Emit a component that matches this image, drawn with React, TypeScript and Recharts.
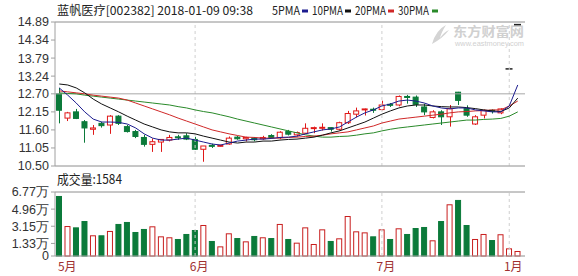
import React from "react";
import {
  ComposedChart,
  Bar,
  Line,
  XAxis,
  YAxis,
  CartesianGrid,
  ReferenceLine,
} from "recharts";

// daily candles, 2018 window (last two are the one-price limit-up days)
const OPEN = [
  12.7, 11.96, 12.15, 11.85, 11.62, 11.8, 11.75, 12.02, 11.7, 11.55, 11.37, 11.16, 11.23, 11.29,
  11.39, 11.42, 11.31, 11.01, 11.13, 11.12, 11.17, 11.38, 11.33, 11.35, 11.33, 11.43, 11.37, 11.55,
  11.45, 11.5, 11.65, 11.65, 11.67, 11.62, 11.82, 12.08, 12.22, 12.23, 12.22, 12.38, 12.36, 12.62,
  12.6, 12.3, 11.98, 12.15, 12.0, 12.75, 12.25, 11.78, 12.05, 12.2, 12.12, 13.46, 14.81,
];
const HIGH = [
  12.88, 12.15, 12.24, 11.9, 11.75, 11.85, 12.05, 12.05, 11.75, 11.6, 11.45, 11.34, 11.32, 11.45,
  11.45, 11.5, 11.39, 11.11, 11.18, 11.15, 11.4, 11.42, 11.39, 11.38, 11.42, 11.47, 11.56, 11.6,
  11.55, 11.8, 11.7, 11.8, 11.68, 11.85, 12.18, 12.28, 12.25, 12.28, 12.49, 12.42, 12.65, 12.67,
  12.65, 12.4, 12.2, 12.2, 12.36, 12.76, 12.35, 12.05, 12.22, 12.23, 12.26, 13.46, 14.81,
];
const LOW = [
  11.8, 11.87, 11.93, 11.21, 11.45, 11.67, 11.48, 11.75, 11.52, 11.35, 11.09, 10.93, 10.93, 11.25,
  11.3, 11.29, 10.99, 10.63, 11.05, 11.09, 11.15, 11.3, 11.25, 11.25, 11.3, 11.33, 11.32, 11.43,
  11.4, 11.48, 11.5, 11.58, 11.55, 11.58, 11.78, 11.98, 12.04, 12.12, 12.2, 12.3, 12.32, 12.4,
  12.3, 12.05, 11.95, 11.75, 11.7, 12.36, 12.0, 11.75, 11.95, 12.1, 12.08, 13.46, 14.81,
];
const CLOSE = [
  12.2, 12.12, 11.95, 11.66, 11.66, 11.73, 12.02, 11.8, 11.55, 11.4, 11.16, 11.24, 11.31, 11.37,
  11.36, 11.32, 11.01, 11.11, 11.1, 11.13, 11.35, 11.33, 11.37, 11.3, 11.37, 11.37, 11.53, 11.47,
  11.52, 11.65, 11.67, 11.68, 11.62, 11.82, 12.1, 12.18, 12.24, 12.2, 12.36, 12.35, 12.62, 12.6,
  12.38, 12.15, 12.15, 12.0, 12.25, 12.5, 12.05, 12.0, 12.2, 12.17, 12.24, 13.46, 14.81,
];
// 成交量, 万手
const VOLUME = [
  6.35, 3.17, 3.03, 3.7, 2.19, 2.19, 2.65, 3.39, 3.6, 2.54, 2.86, 3.14, 2.08, 1.98, 1.8, 2.33, 2.75,
  3.28, 1.59, 1.02, 2.4, 1.9, 1.55, 2.12, 1.98, 1.9, 3.39, 1.8, 1.41, 3.03, 1.27, 2.82, 1.59, 1.87,
  4.23, 2.61, 2.5, 2.08, 2.82, 1.8, 2.93, 2.33, 2.96, 3.07, 1.66, 3.7, 5.47, 5.93, 3.28, 1.8, 2.33,
  1.69, 2.3, 0.81, 0.53,
];

const MA5 = [
  12.88, 12.66, 12.42, 12.15, 11.93, 11.84, 11.84, 11.83, 11.78, 11.66, 11.48, 11.35, 11.29, 11.29,
  11.32, 11.35, 11.29, 11.23, 11.17, 11.14, 11.2, 11.26, 11.29, 11.32, 11.32, 11.34, 11.37, 11.38,
  11.41, 11.48, 11.54, 11.6, 11.63, 11.69, 11.84, 11.99, 12.12, 12.21, 12.33, 12.39, 12.48, 12.51,
  12.48, 12.42, 12.33, 12.27, 12.24, 12.27, 12.27, 12.21, 12.18, 12.15, 12.15, 12.33, 12.97,
];
const MA10 = [
  13.0, 12.97, 12.88, 12.73, 12.54, 12.39, 12.27, 12.15, 12.02, 11.9, 11.78, 11.69, 11.6, 11.54,
  11.51, 11.51, 11.48, 11.41, 11.35, 11.29, 11.23, 11.2, 11.23, 11.23, 11.26, 11.26, 11.29, 11.31,
  11.32, 11.35, 11.38, 11.44, 11.51, 11.57, 11.66, 11.75, 11.84, 11.96, 12.08, 12.18, 12.27, 12.33,
  12.36, 12.36, 12.33, 12.31, 12.3, 12.3, 12.28, 12.25, 12.21, 12.18, 12.16, 12.27, 12.57,
];
const MA20 = [
  12.79, 12.76, 12.73, 12.7, 12.66, 12.63, 12.6, 12.57, 12.51, 12.42, 12.33, 12.24, 12.15, 12.06,
  11.96, 11.87, 11.78, 11.69, 11.6, 11.54, 11.48, 11.43, 11.38, 11.37, 11.35, 11.35, 11.35, 11.37,
  11.38, 11.4, 11.41, 11.44, 11.48, 11.51, 11.54, 11.6, 11.66, 11.72, 11.81, 11.87, 11.93, 11.96,
  11.99, 12.02, 12.05, 12.08, 12.12, 12.15, 12.16, 12.18, 12.19, 12.21, 12.21, 12.33, 12.48,
];
const MA30 = [
  12.73, 12.71, 12.7, 12.66, 12.63, 12.6, 12.57, 12.54, 12.51, 12.48, 12.45, 12.42, 12.39, 12.36,
  12.31, 12.27, 12.21, 12.16, 12.12, 12.06, 12.0, 11.93, 11.87, 11.81, 11.75, 11.69, 11.63, 11.57,
  11.51, 11.45, 11.41, 11.38, 11.38, 11.4, 11.41, 11.44, 11.48, 11.51, 11.57, 11.62, 11.66, 11.69,
  11.72, 11.75, 11.78, 11.81, 11.84, 11.87, 11.9, 11.9, 11.92, 11.93, 11.95, 12.02, 12.15,
];

const PRICE_TICKS = [10.5, 11.05, 11.6, 12.15, 12.7, 13.24, 13.79, 14.34, 14.89];
const VOL_TICKS = [0, 1.33, 3.15, 4.96, 6.77];
const MONTH_IDX = [0, 16, 38, 53];
const MONTH_NAMES = ["5月", "6月", "7月", "1月"];

const RED = "#e01818";
const GREEN = "#0b7a3a";
const MA_COLORS = ["#1c1c8f", "#111111", "#d02828", "#2a8a2a"];
const GRID = "#dcdcdc";
const FRAME = "#a0a0a0";
const FONT = "'Liberation Sans', Arial, sans-serif";
const CJK = "'Noto Sans CJK SC', sans-serif";

const data = OPEN.map((o, i) => ({
  i,
  open: o,
  high: HIGH[i],
  low: LOW[i],
  close: CLOSE[i],
  vol: VOLUME[i],
  ma5: MA5[i],
  ma10: MA10[i],
  ma20: MA20[i],
  ma30: MA30[i],
}));

// wick + body, positioned inside the [low, high] bar the library lays out
function Candle(props: any) {
  const { x, y, width, height, payload } = props;
  const { open, close, high, low } = payload;
  if (high === low) {
    return <line x1={x - 0.5} x2={x + width + 0.5} y1={y} y2={y} stroke="#222" strokeWidth={1.5} />;
  }
  const k = height / (high - low);
  const py = (v: number) => y + (high - v) * k;
  const up = close >= open;
  const color = up ? RED : GREEN;
  const cx = Math.round(x + width / 2) + 0.5;
  const top = py(Math.max(open, close));
  const bot = py(Math.min(open, close));
  return (
    <g>
      <line x1={cx} x2={cx} y1={y} y2={y + height} stroke={color} strokeWidth={1} />
      <rect
        x={x + 0.5}
        y={top}
        width={width - 1}
        height={Math.max(bot - top, 1)}
        fill={up ? "#fff" : color}
        stroke={color}
        strokeWidth={1}
      />
    </g>
  );
}

function VolBar(props: any) {
  const { x, y, width, height, payload } = props;
  const up = payload.close >= payload.open;
  return (
    <rect
      x={x + 0.5}
      y={y + 0.5}
      width={width - 1}
      height={Math.max(height - 0.5, 0)}
      fill={up ? "#fff" : GREEN}
      stroke={up ? "#c81e1e" : GREEN}
      strokeWidth={1}
    />
  );
}

function MonthTick(props: any) {
  const { x, y, payload, index } = props;
  const k = MONTH_IDX.indexOf(payload.value);
  return (
    <text
      x={x + (k === 0 ? 8 : 4)}
      y={y + 7}
      textAnchor="middle"
      fontSize={12}
      fontFamily={CJK}
      fill="#a03030"
    >
      {MONTH_NAMES[k >= 0 ? k : index]}
    </text>
  );
}

const monthLines = MONTH_IDX.slice(1).map((m) => (
  <ReferenceLine key={m} x={m} stroke="#cfcfcf" strokeDasharray="3 3" />
));

export default function App() {
  return (
    <div
      style={{
        position: "absolute",
        left: 0,
        top: 0,
        width: 578,
        height: 276,
        background: "#fff",
        overflow: "hidden",
      }}
    >
      <svg width={578} height={276} style={{ position: "absolute", left: 0, top: 0 }}>
        <text x={57} y={15} fontSize={12} fontFamily={CJK} fill="#222" textLength={196} lengthAdjust="spacingAndGlyphs">
          蓝帆医疗[002382] 2018-01-09 09:38
        </text>
        <text x={272} y={15} fontSize={12} fontFamily={CJK} fill="#222" textLength={28} lengthAdjust="spacingAndGlyphs">5PMA</text>
        <rect x={302} y={9.5} width={6} height={3} fill={MA_COLORS[0]} />
        <text x={312} y={15} fontSize={12} fontFamily={CJK} fill="#222" textLength={31} lengthAdjust="spacingAndGlyphs">10PMA</text>
        <rect x={345} y={9.5} width={6} height={3} fill={MA_COLORS[1]} />
        <text x={355} y={15} fontSize={12} fontFamily={CJK} fill="#222" textLength={31} lengthAdjust="spacingAndGlyphs">20PMA</text>
        <rect x={388} y={9.5} width={6} height={3} fill={MA_COLORS[2]} />
        <text x={398} y={15} fontSize={12} fontFamily={CJK} fill="#222" textLength={31} lengthAdjust="spacingAndGlyphs">30PMA</text>
        <rect x={432} y={9.5} width={6} height={3} fill={MA_COLORS[3]} />

        {/* watermark */}
        <path d="M432 44 Q436 30 446 25 Q441 33 440 38 Q444 32 449 30 Q443 38 432 44 Z" fill="#d4d4d4" />
        <text x={453} y={36} fontSize={13} fontWeight="bold" fontFamily={CJK} fill="#d0d0d0" textLength={71} lengthAdjust="spacingAndGlyphs">东方财富网</text>
        <text x={455} y={46} fontSize={6.5} fontFamily={FONT} fill="#d0d0d0" textLength={69} lengthAdjust="spacingAndGlyphs">www.eastmoney.com</text>

        <text x={57} y={184} fontSize={13} fontFamily={CJK} fill="#222" textLength={65} lengthAdjust="spacingAndGlyphs">
          成交量:1584
        </text>
      </svg>

      <div style={{ position: "absolute", left: 0, top: 0 }}>
        <ComposedChart
          width={578}
          height={178}
          data={data}
          margin={{ top: 22, right: 53, bottom: 12, left: 1 }}
        >
          <CartesianGrid vertical={false} stroke={GRID} />
          <XAxis dataKey="i" type="category" hide padding={{ left: 0, right: 3 }} />
          <YAxis
            yAxisId="p"
            type="number"
            domain={[10.5, 14.89]}
            ticks={PRICE_TICKS}
            interval={0}
            width={54}
            tickSize={4}
            tickLine={{ stroke: FRAME }}
            axisLine={{ stroke: FRAME }}
            tickFormatter={(v: number) => v.toFixed(2)}
            tick={{ fontSize: 12.5, fill: "#333", fontFamily: FONT }}
          />
          <YAxis yAxisId="r" orientation="right" width={0} tick={false} tickLine={false} axisLine={{ stroke: FRAME }} />
          {monthLines.map((l) => React.cloneElement(l, { yAxisId: "p" }))}
          <ReferenceLine yAxisId="p" y={14.89} stroke={FRAME} />
          <ReferenceLine yAxisId="p" y={12.7} stroke="#a8a8a8" />
          <ReferenceLine yAxisId="p" y={10.5} stroke={FRAME} />
          <Bar
            yAxisId="p"
            dataKey={(d: any) => [d.low, d.high]}
            barSize={6}
            shape={Candle}
            isAnimationActive={false}
          />
          <Line yAxisId="p" dataKey="ma30" stroke={MA_COLORS[3]} strokeWidth={1} dot={false} isAnimationActive={false} />
          <Line yAxisId="p" dataKey="ma20" stroke={MA_COLORS[2]} strokeWidth={1} dot={false} isAnimationActive={false} />
          <Line yAxisId="p" dataKey="ma10" stroke={MA_COLORS[1]} strokeWidth={1} dot={false} isAnimationActive={false} />
          <Line yAxisId="p" dataKey="ma5" stroke={MA_COLORS[0]} strokeWidth={1} dot={false} isAnimationActive={false} />
        </ComposedChart>
      </div>

      <div style={{ position: "absolute", left: 0, top: 170 }}>
        <ComposedChart
          width={578}
          height={106}
          data={data}
          margin={{ top: 22, right: 53, bottom: 2, left: 1 }}
        >
          <CartesianGrid vertical={false} stroke={GRID} />
          <XAxis
            dataKey="i"
            type="category"
            height={18}
            padding={{ left: 0, right: 3 }}
            ticks={MONTH_IDX}
            interval={0}
            tickLine={false}
            axisLine={{ stroke: FRAME }}
            tick={MonthTick}
          />
          <YAxis
            yAxisId="v"
            type="number"
            domain={[0, 6.77]}
            ticks={VOL_TICKS}
            interval={0}
            width={54}
            tickSize={4}
            tickLine={{ stroke: FRAME }}
            axisLine={{ stroke: FRAME }}
            tickFormatter={(v: number) => (v === 0 ? "0" : v.toFixed(2) + "万")}
            tick={{ fontSize: 12.5, fill: "#333", fontFamily: FONT }}
          />
          <YAxis yAxisId="r" orientation="right" width={0} tick={false} tickLine={false} axisLine={{ stroke: FRAME }} />
          {monthLines.map((l) => React.cloneElement(l, { yAxisId: "v" }))}
          <ReferenceLine yAxisId="v" y={6.77} stroke={FRAME} />
          <Bar yAxisId="v" dataKey="vol" barSize={6} shape={VolBar} isAnimationActive={false} />
        </ComposedChart>
      </div>
    </div>
  );
}
